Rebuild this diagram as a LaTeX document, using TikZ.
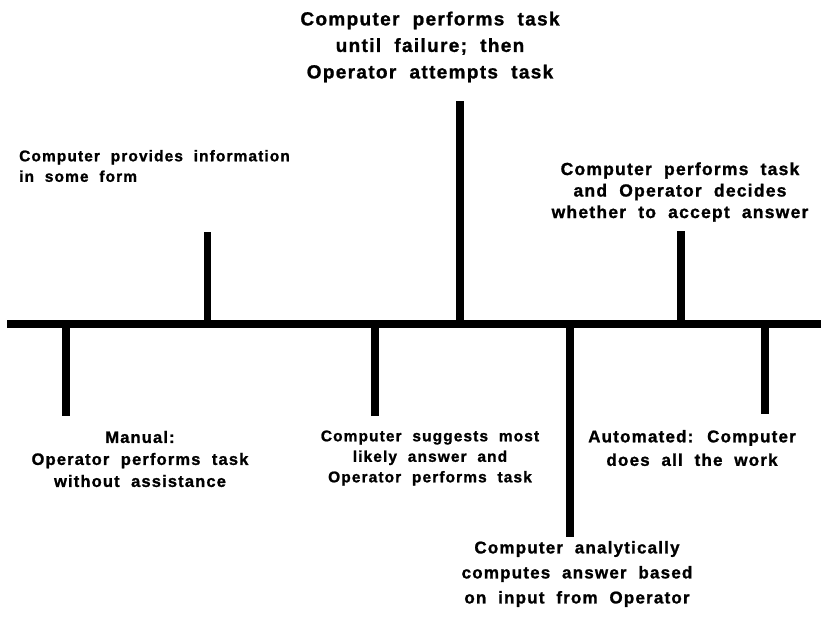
\documentclass[tikz,border=0pt]{standalone}
\usepackage{fontspec}
\setmainfont{Liberation Sans}[LetterSpace=7,WordSpace=2,BoldFeatures={FakeBold=1.2}]
\begin{document}
\begin{tikzpicture}[x=1pt,y=-1pt,
  bar/.style={line width=8.5pt,line cap=butt},
  stem/.style={line width=8pt,line cap=butt},
  lbl/.style={align=center,inner sep=0pt},
  big/.style={lbl,font=\fontsize{19}{26.5}\selectfont\bfseries},
  mid/.style={lbl,font=\fontsize{17}{23.5}\selectfont\bfseries},
  ana/.style={lbl,font=\fontsize{17}{25}\selectfont\bfseries},
  man/.style={lbl,font=\fontsize{16.5}{22}\selectfont\bfseries},
  acc/.style={lbl,font=\fontsize{17.5}{21.5}\selectfont\bfseries},
  small/.style={lbl,font=\fontsize{15.5}{20.5}\selectfont\bfseries}]
\useasboundingbox (0,0) rectangle (822,619);
% axis
\coordinate (L) at (7,324);
\coordinate (R) at (821,324);
\draw[bar] (L) -- (R);
% stem bases and tips
\coordinate (a0) at (66,324);  \coordinate (a1) at (66,416);
\coordinate (b0) at (207,324); \coordinate (b1) at (207,232);
\coordinate (c0) at (375,324); \coordinate (c1) at (375,416);
\coordinate (d0) at (460,324); \coordinate (d1) at (460,101);
\coordinate (e0) at (570,324); \coordinate (e1) at (570,537);
\coordinate (f0) at (681,324); \coordinate (f1) at (681,231);
\coordinate (g0) at (765,324); \coordinate (g1) at (765,414);
\draw[stem] (a0) -- (a1);
\draw[stem,line width=7pt] (b0) -- (b1);
\draw[stem] (c0) -- (c1);
\draw[stem] (d0) -- (d1);
\draw[stem] (e0) -- (e1);
\draw[stem] (f0) -- (f1);
\draw[stem] (g0) -- (g1);
% labels
\node[big] (td) at (430,47) {Computer performs task\\until failure; then\\Operator attempts task};
\node[small,align=left,anchor=west] (tb) at (19,166) {Computer provides information\\in some form};
\node[acc] (tf) at (680,192) {Computer performs task\\and Operator decides\\whether to accept answer};
\node[man] (ta) at (140,459) {Manual:\\Operator performs task\\without assistance};
\node[small] (tc) at (430,458) {Computer suggests most\\likely answer and\\Operator performs task};
\node[mid] (tg) at (692,448) {Automated: Computer\\does all the work};
\node[ana] (te) at (577,574) {Computer analytically\\computes answer based\\on input from Operator};
\end{tikzpicture}
\end{document}
